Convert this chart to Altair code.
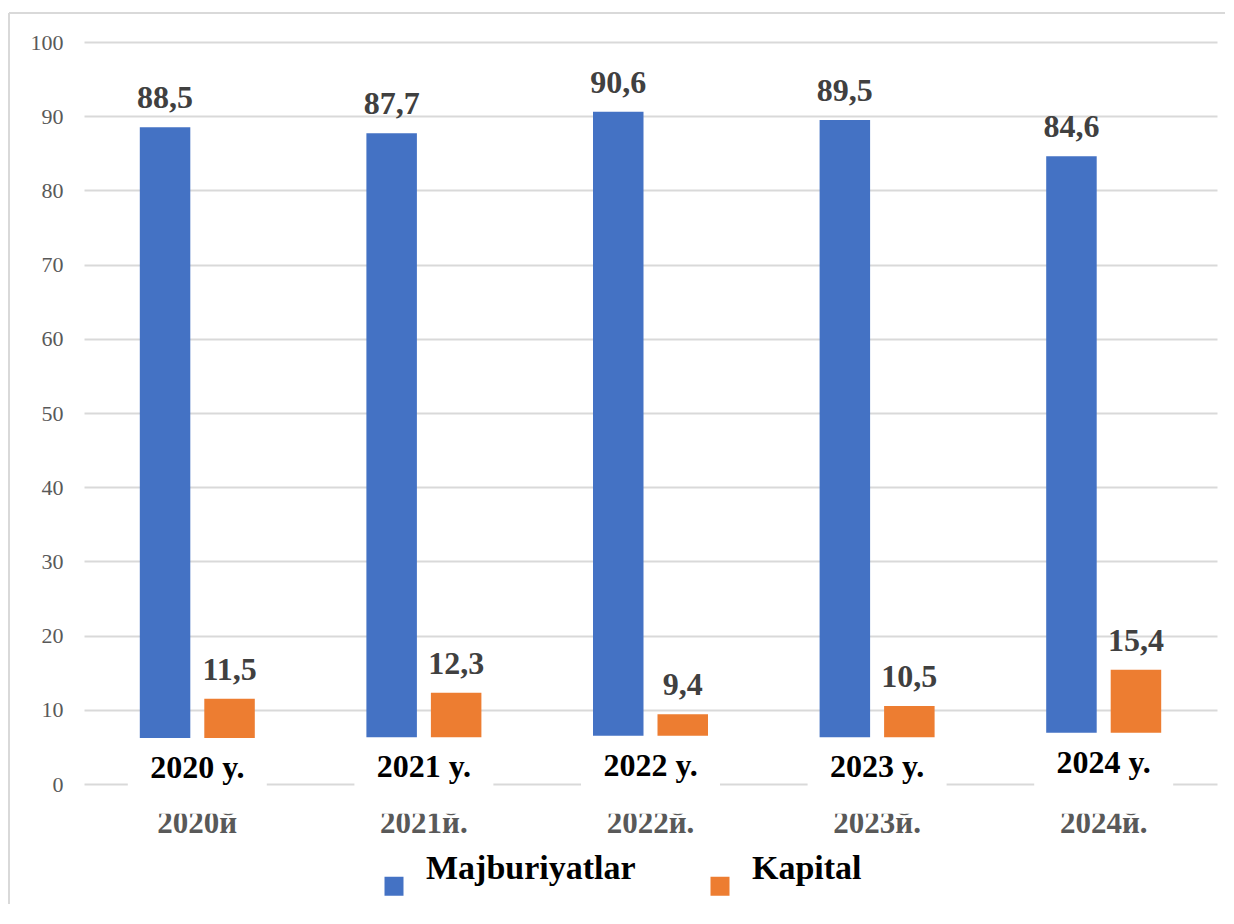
import altair as alt
import pandas as pd

years = ["2020", "2021", "2022", "2023", "2024"]
bottom_labels = ["2020 y.", "2021 y.", "2022 y.", "2023 y.", "2024 y."]
axis_labels = ["2020й", "2021й.", "2022й.", "2023й.", "2024й."]
series = ["Majburiyatlar", "Kapital"]
majburiyatlar = [88.5, 87.7, 90.6, 89.5, 84.6]
kapital = [11.5, 12.3, 9.4, 10.5, 15.4]
# visible lower edge of the bars (the rest is hidden behind white label boxes)
cover_top = [6.2, 6.3, 6.5, 6.3, 6.9]
cover_bottom = -4.0
y_ticks = list(range(0, 101, 10))
colors = ["#4472C4", "#ED7D31"]

rows = []
for i, y in enumerate(years):
    for s, vals in zip(series, [majburiyatlar, kapital]):
        v = vals[i]
        rows.append({"year": y, "series": s, "value": v,
                     "label": f"{v:.1f}".replace(".", ",")})
bars_df = pd.DataFrame(rows)

cover_df = pd.DataFrame({
    "year": years,
    "top": cover_top,
    "bottom": [cover_bottom] * len(years),
    "blabel": bottom_labels,
    "alabel": axis_labels,
})

FONT = "Liberation Serif"
W, H = 1133, 742

x_enc = alt.X("year:N", axis=None, sort=years,
              scale=alt.Scale(paddingInner=0.4925, paddingOuter=0.24625))
y_scale = alt.Scale(domain=[0, 100], nice=False, zero=True)
y_axis = alt.Axis(values=y_ticks, title=None, domain=False, ticks=False,
                  labelFont=FONT, labelFontSize=22, labelColor="#595959",
                  labelPadding=21, grid=True, gridColor="#d9d9d9", gridWidth=2)

xoff = alt.XOffset("series:N", sort=series,
                   scale=alt.Scale(domain=series, paddingInner=0.217, paddingOuter=0))

frame_df = pd.DataFrame({"a": [0]})
frame_top = alt.Chart(frame_df).mark_rule(color="#d9d9d9", strokeWidth=2).encode(
    x=alt.value(-75), x2=alt.value(1300), y=alt.value(-29))
frame_left = alt.Chart(frame_df).mark_rule(color="#d9d9d9", strokeWidth=2).encode(
    x=alt.value(-75), y=alt.value(-29), y2=alt.value(1000))

bars = alt.Chart(bars_df).mark_bar().encode(
    x=x_enc,
    xOffset=xoff,
    y=alt.Y("value:Q", scale=y_scale, axis=y_axis),
    color=alt.Color("series:N", sort=series,
                    scale=alt.Scale(domain=series, range=colors),
                    legend=alt.Legend(orient="none", legendX=293, legendY=827,
                                      direction="horizontal", title=None,
                                      symbolType="square", symbolSize=361,
                                      symbolStrokeWidth=0,
                                      labelFont=FONT, labelFontSize=34,
                                      labelFontWeight="bold", labelColor="black",
                                      labelOffset=15, columnPadding=67,
                                      labelLimit=500, padding=0,
                                      labelBaseline="bottom")),
)

axis_text = alt.Chart(cover_df).mark_text(
    font=FONT, fontSize=31, fontWeight="bold", color="#595959",
    baseline="alphabetic", dy=49
).encode(x=x_enc, y=alt.datum(0, scale=y_scale), text="alabel:N")

covers = alt.Chart(cover_df).mark_bar(color="white", size=139).encode(
    x=x_enc,
    y=alt.Y("top:Q", scale=y_scale),
    y2="bottom:Q",
)

bottom_text = alt.Chart(cover_df).mark_text(
    font=FONT, fontSize=32, fontWeight="bold", color="black",
    baseline="alphabetic", dy=40
).encode(x=x_enc, y=alt.Y("top:Q", scale=y_scale), text="blabel:N")

value_text = alt.Chart(bars_df).mark_text(
    font=FONT, fontSize=32, fontWeight="bold", color="#404040",
    baseline="alphabetic", dy=-19
).encode(x=x_enc, xOffset=xoff, y=alt.Y("value:Q", scale=y_scale),
         text="label:N")

chart = alt.layer(
    bars, frame_top, frame_left, axis_text, covers, bottom_text, value_text
).properties(
    width=W, height=H,
    padding={"left": 76, "top": 34, "right": 8, "bottom": 120},
    autosize=alt.AutoSizeParams(type="none"),
).configure(
    background="white", font=FONT
).configure_view(strokeWidth=0, stroke=None)

chart.save("out.html", embed_options={"renderer": "svg", "actions": False})
